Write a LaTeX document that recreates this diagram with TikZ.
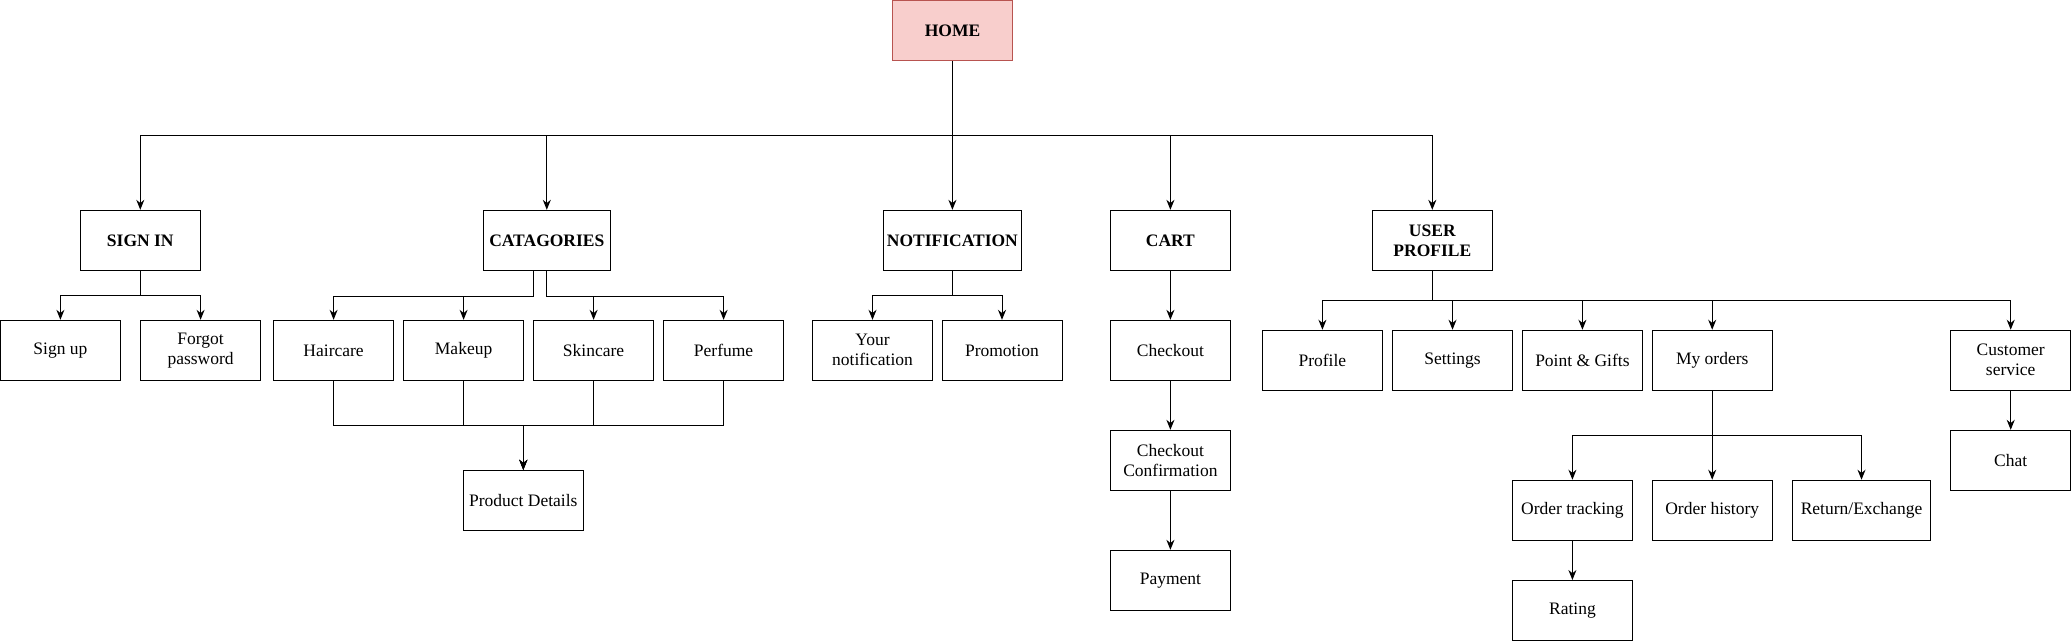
\documentclass[tikz,border=0pt]{standalone}
\usepackage{fontspec}
\setmainfont{Liberation Serif}
\usetikzlibrary{arrows.meta}
\begin{document}
\begin{tikzpicture}[x=1pt,y=-1pt,
  box/.style={draw, line width=1pt, minimum width=120pt, minimum height=60pt, inner sep=1pt, align=center, font=\fontsize{17.5}{20}\selectfont},
  head/.style={box, font=\fontsize{17.5}{20}\selectfont\bfseries},
  arr/.style={-{Stealth[length=10pt,width=8pt]}, line width=1pt}] % site map
  \useasboundingbox (0,0) rectangle (2071,641);
  \node[head, fill={rgb,255:red,248;green,206;blue,204}, draw={rgb,255:red,184;green,84;blue,80}] (home) at (952.5,30.5) {HOME};
  \node[head] (signin) at (140.3,240.3) {SIGN IN};
  \node[head, minimum width=127pt] (cat) at (546.8,240.3) {CATAGORIES};
  \node[head, minimum width=138pt] (notif) at (952.4,240.3) {NOTIFICATION};
  \node[head] (cart) at (1170.4,240.3) {CART};
  \node[head] (userprof) at (1432.3,240.3) {USER\\PROFILE};
  \node[box] (signup) at (60.4,350.3) {Sign up};
  \node[box] (forgot) at (200.6,350.3) {Forgot\\password};
  \node[box] (haircare) at (333.6,350.3) {Haircare};
  \node[box] (makeup) at (463.6,350.3) {Makeup};
  \node[box] (skincare) at (593.6,350.3) {Skincare};
  \node[box] (perfume) at (723.6,350.3) {Perfume};
  \node[box] (product) at (523.3,500.3) {Product Details};
  \node[box] (yournotif) at (872.5,350.3) {Your\\notification};
  \node[box] (promo) at (1002,350.3) {Promotion};
  \node[box] (checkout) at (1170.4,350.3) {Checkout};
  \node[box] (confirm) at (1170.4,460.3) {Checkout\\Confirmation};
  \node[box] (payment) at (1170.4,580.3) {Payment};
  \node[box] (profile) at (1322.4,360.2) {Profile};
  \node[box] (settings) at (1452.5,360.2) {Settings};
  \node[box] (points) at (1582.4,360.2) {Point \& Gifts};
  \node[box] (myorders) at (1712.2,360.2) {My orders};
  \node[box] (custserv) at (2010.7,360.2) {Customer\\service};
  \node[box] (chat) at (2010.7,460.3) {Chat};
  \node[box] (tracking) at (1572.4,510.2) {Order tracking};
  \node[box] (history) at (1712.2,510.2) {Order history};
  \node[box, minimum width=137.5pt] (returnx) at (1861.5,510.2) {Return/Exchange};
  \node[box] (rating) at (1572.4,610.5) {Rating};
  % branch points
  \coordinate (bus) at (952.5,135.3);
  \coordinate (sib) at (140.3,295.6);
  \coordinate (nob) at (952.4,295.6);
  \coordinate (pdm) at (523.3,425.2);
  \coordinate (upb) at (1432.3,300.5);
  \coordinate (mob) at (1712.2,435.4);
  \foreach \n in {signin,cat,notif,cart,userprof} \draw[arr] (home.south) -- (bus) -| (\n.north);
  \foreach \n in {signup,forgot} \draw[arr] (signin.south) -- (sib) -| (\n.north);
  \foreach \n in {haircare,makeup} \draw[arr] ([xshift=-13.5pt]cat.south) -- ++(0,25.4) -| (\n.north);
  \foreach \n in {skincare,perfume} \draw[arr] (cat.south) -- ++(0,25.4) -| (\n.north);
  \foreach \n in {haircare,makeup,skincare,perfume} \draw[arr] (\n.south) |- (pdm) -- (product.north);
  \foreach \n in {yournotif,promo} \draw[arr] (notif.south) -- (nob) -| (\n.north);
  \draw[arr] (cart) -- (checkout);
  \draw[arr] (checkout) -- (confirm);
  \draw[arr] (confirm) -- (payment);
  \foreach \n in {profile,settings,points,myorders,custserv} \draw[arr] (userprof.south) -- (upb) -| (\n.north);
  \foreach \n in {tracking,history,returnx} \draw[arr] (myorders.south) -- (mob) -| (\n.north);
  \draw[arr] (tracking) -- (rating);
  \draw[arr] (custserv) -- (chat);
\end{tikzpicture}
\end{document}
